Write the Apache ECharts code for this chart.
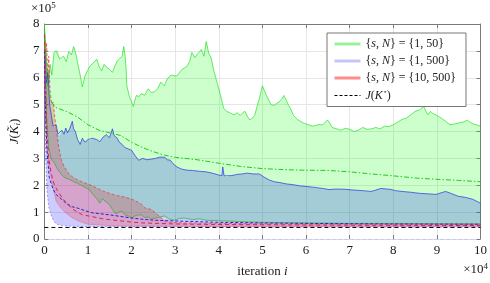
<!DOCTYPE html>
<html><head><meta charset="utf-8">
<script src="https://cdn.jsdelivr.net/npm/echarts@6/dist/echarts.min.js"></script>
<style>html,body{margin:0;padding:0;background:#fff}#c{width:490px;height:283px}</style>
</head><body><div id="c"></div>
<script>
// x in units of 1e4 iterations, y in units of 1e5
var xTicks = [0,1,2,3,4,5,6,7,8,9,10];
var yTicks = [0,1,2,3,4,5,6,7,8];

// {s,N} = {1,50}  (green)
var gUpX = [0,0.03,0.06,0.1,0.13,0.17,0.22,0.27,0.31,0.35,0.38,0.44,0.5,0.56,0.62,0.67,0.72,0.76,0.82,0.87,0.93,1.0,1.04,1.12,1.2,1.26,1.31,1.37,1.42,1.5,1.56,1.62,1.67,1.72,1.78,1.82,1.85,1.87,1.89,1.95,2.0,2.04,2.08,2.11,2.17,2.22,2.3,2.38,2.45,2.53,2.6,2.67,2.75,2.82,2.9,2.98,3.04,3.15,3.27,3.33,3.38,3.45,3.52,3.6,3.66,3.71,3.77,3.82,3.88,3.93,3.98,4.04,4.11,4.18,4.27,4.35,4.42,4.49,4.55,4.6,4.66,4.71,4.77,4.82,4.88,4.93,4.97,5.0,5.05,5.09,5.15,5.2,5.27,5.33,5.38,5.44,5.49,5.55,5.6,5.66,5.71,5.8,5.93,6.05,6.16,6.27,6.38,6.49,6.55,6.6,6.7,6.8,6.9,7.0,7.1,7.2,7.3,7.4,7.5,7.6,7.7,7.8,7.9,8.0,8.1,8.2,8.3,8.4,8.5,8.6,8.7,8.75,8.8,8.85,8.9,9.0,9.1,9.2,9.3,9.4,9.5,9.6,9.7,9.8,9.9,10];
var gUp = [8.0,7.2,6.3,5.8,6.5,6.1,6.94,7.0,7.05,6.7,6.69,6.8,6.6,6.98,6.85,7.16,6.9,6.58,6.1,5.66,6.07,6.3,6.43,6.55,6.69,6.4,6.25,6.5,6.4,6.3,6.2,6.45,6.62,6.7,6.8,7.16,6.8,6.43,5.7,5.3,5.1,4.93,5.2,5.34,5.3,5.41,5.35,5.59,5.45,5.48,5.6,5.84,5.7,5.96,6.1,6.07,6.07,6.3,6.43,6.6,6.94,6.75,6.9,7.05,6.8,7.35,6.9,6.76,6.3,6.0,5.7,5.34,4.86,4.75,4.68,4.62,4.7,4.6,4.7,4.75,4.55,4.43,4.5,4.6,4.95,5.23,5.5,5.7,5.5,5.34,5.15,5.0,4.97,5.05,5.1,5.2,5.34,5.15,4.97,4.8,4.6,4.45,4.32,4.25,4.2,4.25,4.25,4.43,4.3,4.15,4.1,4.05,4.12,4.08,4.0,4.05,4.15,4.08,4.1,4.15,4.1,4.2,4.18,4.25,4.35,4.45,4.5,4.62,4.75,4.8,4.93,4.75,4.62,4.75,4.68,4.6,4.5,4.38,4.25,4.28,4.32,4.35,4.42,4.3,4.25,4.2];
var gLoX = [0,0.05,0.1,0.16,0.22,0.3,0.38,0.45,0.53,0.6,0.67,0.75,0.82,0.9,0.98,1.05,1.11,1.2,1.27,1.33,1.4,1.49,1.56,1.64,1.7,1.78,1.85,1.93,2.0,2.1,2.22,2.3,2.38,2.45,2.6,2.76,2.85,2.98,3.1,3.2,3.4,3.56,3.7,4.0,4.5,5.0,6.0,7.0,8.0,9.0,10];
var gLo = [7.8,4.6,3.4,2.95,2.86,2.6,2.42,2.3,2.24,2.2,2.13,2.08,2.02,1.95,1.88,1.8,1.66,1.5,1.33,1.5,1.4,1.29,1.1,0.93,1.0,1.04,0.9,0.85,0.78,0.88,0.9,0.8,0.82,0.74,0.8,0.86,0.75,0.7,0.76,0.78,0.72,0.75,0.7,0.68,0.65,0.62,0.6,0.58,0.58,0.57,0.56];
var gMeanX = [0,0.05,0.12,0.25,0.5,0.75,1.0,1.25,1.5,1.75,2.0,2.25,2.5,2.75,3.0,3.5,4.0,4.5,5.0,5.5,6.0,6.5,7.0,7.5,8.0,8.5,9.0,9.5,10];
var gMean = [7.8,6.0,5.2,4.9,4.75,4.55,4.25,4.05,3.95,3.85,3.6,3.4,3.25,3.12,3.04,2.95,2.82,2.7,2.62,2.58,2.56,2.55,2.5,2.42,2.35,2.27,2.22,2.18,2.13];

// {s,N} = {1,500}  (blue)
var bUpX = [0,0.02,0.05,0.08,0.12,0.16,0.2,0.24,0.27,0.31,0.35,0.4,0.45,0.49,0.53,0.58,0.64,0.67,0.71,0.76,0.82,0.87,0.93,1.0,1.04,1.1,1.2,1.27,1.35,1.42,1.49,1.53,1.56,1.6,1.67,1.72,1.78,1.85,1.93,2.0,2.08,2.16,2.25,2.35,2.45,2.55,2.65,2.76,2.82,2.89,2.95,3.04,3.15,3.27,3.4,3.55,3.71,3.85,4.0,4.07,4.09,4.12,4.16,4.3,4.4,4.53,4.65,4.8,4.93,5.04,5.15,5.27,5.4,5.55,5.71,5.85,6.04,6.2,6.38,6.53,6.7,6.9,7.1,7.3,7.49,7.6,7.71,7.85,7.93,8.05,8.2,8.4,8.6,8.8,8.98,9.1,9.2,9.35,9.49,9.65,9.82,9.92,10];
var bUp = [7.0,6.9,5.8,6.2,5.0,4.6,4.2,4.15,4.25,3.9,3.85,4.05,3.9,4.13,3.95,4.1,4.38,4.1,4.0,3.7,3.52,3.75,3.6,3.7,3.66,3.75,3.7,3.62,3.8,3.88,3.77,3.95,4.1,3.85,3.75,3.6,3.52,3.4,3.35,3.3,3.1,2.93,3.0,2.95,2.97,3.0,3.05,3.04,2.95,2.93,2.8,2.68,2.6,2.56,2.55,2.52,2.5,2.45,2.38,2.36,2.68,2.35,2.31,2.36,2.4,2.42,2.45,2.42,2.42,2.3,2.2,2.13,2.1,2.05,2.02,1.98,1.95,1.92,1.88,1.84,1.86,1.85,1.82,1.8,1.77,1.82,1.88,1.86,1.85,1.8,1.77,1.74,1.7,1.68,1.66,1.72,1.77,1.68,1.59,1.55,1.48,1.4,1.33];
var bLoX = [0,0.03,0.06,0.1,0.16,0.22,0.27,0.4,0.6,1.0,2.0,4.0,6.0,8.0,10];
var bLo = [7.0,3.0,1.8,1.2,0.86,0.65,0.56,0.5,0.47,0.46,0.46,0.45,0.45,0.45,0.45];
var bMeanX = [0,0.03,0.06,0.11,0.2,0.27,0.38,0.5,0.64,0.76,1.0,1.11,1.49,2.0,2.22,2.5,3.0,4.0,5.0,6.0,8.0,10];
var bMean = [7.0,4.5,3.3,2.3,1.85,1.65,1.5,1.32,1.2,1.15,1.02,0.97,0.9,0.78,0.74,0.7,0.67,0.62,0.6,0.58,0.56,0.55];

// {s,N} = {10,500}  (red)
var rUpX = [0,0.02,0.05,0.08,0.1,0.13,0.17,0.2,0.24,0.28,0.33,0.38,0.45,0.55,0.65,0.76,0.9,1.04,1.2,1.35,1.49,1.65,1.87,2.05,2.22,2.31,2.45,2.6,2.7,2.76,2.9,3.2,4.0,6.0,8.0,10];
var rUp = [7.8,7.0,7.3,6.0,6.8,5.5,5.0,5.1,4.5,4.0,3.4,2.97,2.7,2.45,2.3,2.2,2.1,2.02,1.9,1.78,1.7,1.62,1.55,1.45,1.3,1.15,1.1,0.9,0.75,0.67,0.62,0.6,0.58,0.56,0.55,0.55];
var rLoX = [0,0.03,0.05,0.1,0.16,0.27,0.38,0.49,0.63,0.78,1.0,1.5,2.0,4.0,6.0,8.0,10];
var rLo = [7.5,4.5,3.5,2.8,2.2,1.4,1.15,0.97,0.8,0.67,0.55,0.5,0.48,0.47,0.47,0.47,0.47];
var rMeanX = [0,0.05,0.1,0.16,0.22,0.3,0.42,0.53,0.64,0.76,0.87,1.04,1.31,1.49,2.0,2.22,3.0,4.0,6.0,8.0,10];
var rMean = [7.6,4.2,3.0,2.4,2.05,1.8,1.5,1.3,1.12,1.0,0.9,0.85,0.76,0.72,0.63,0.6,0.56,0.54,0.52,0.51,0.5];

// J(K*)
var jStarX = [0,10];
var jStar = [0.43,0.43];

var SERIF = 'Liberation Serif';

function pairs(xs, ys){ return xs.map(function(x,i){ return [x, ys[i]]; }); }

function band(xsUp, up, xsLo, lo, fill){
  return {
    type:'custom', coordinateSystem:'cartesian2d', silent:true,
    data:[[0,0]], encode:{x:0,y:1}, z:1,
    renderItem:function(params, api){
      var pts = [];
      for (var i=0;i<xsUp.length;i++) pts.push(api.coord([xsUp[i], up[i]]));
      for (var j=xsLo.length-1;j>=0;j--) pts.push(api.coord([xsLo[j], lo[j]]));
      return {type:'polygon', shape:{points:pts}, style:{fill:fill}};
    }
  };
}
function line(name, xs, ys, color, width, type, z){
  return {type:'line', name:name, data:pairs(xs,ys), symbol:'none', showSymbol:false, silent:true,
    z: z||3, animation:false, itemStyle:{color:color},
    lineStyle:{color:color, width:width, type:type||'solid'}};
}

var chart = echarts.init(document.getElementById('c'), null, {renderer:'canvas'});
var axisGray = '#7a7a7a';
var hid = {color:'rgba(0,0,0,0)', borderWidth:0, opacity:0};
chart.setOption({
  animation:false,
  backgroundColor:'#ffffff',
  textStyle:{fontFamily:SERIF},
  grid:{left:33, right:5, top:24, bottom:38.5, containLabel:false},
  xAxis:[{
    type:'value', min:0, max:10, interval:1, position:'bottom',
    axisLine:{show:true, onZero:false, lineStyle:{color:'#c8c8f6', type:'dashed', width:1}},
    axisTick:{show:true, inside:true, length:4, lineStyle:{color:axisGray}},
    axisLabel:{margin:5, fontFamily:SERIF, fontSize:13, color:'#1a1a1a'},
    splitLine:{show:true, lineStyle:{color:'#e6e6e6', width:1}},
    name:'iteration {it|i}', nameLocation:'middle', nameGap:26,
    nameTextStyle:{fontFamily:SERIF, fontSize:13, color:'#1a1a1a', rich:{it:{fontFamily:SERIF, fontStyle:'italic', fontSize:13}}}
  },{
    type:'value', min:0, max:10, interval:1, position:'top',
    axisLine:{show:true, onZero:false, lineStyle:{color:axisGray}},
    axisTick:{show:true, inside:true, length:4, lineStyle:{color:axisGray}},
    axisLabel:{show:false}, splitLine:{show:false}
  }],
  yAxis:[{
    type:'value', min:0, max:8, interval:1, position:'left',
    axisLine:{show:true, onZero:false, lineStyle:{color:axisGray}},
    axisTick:{show:true, inside:true, length:4, lineStyle:{color:axisGray}},
    axisLabel:{margin:5, fontFamily:SERIF, fontSize:13, color:'#1a1a1a'},
    splitLine:{show:true, lineStyle:{color:'#e6e6e6', width:1}},
    name:'{it|J}({it|K\u0303}{sub|i})', nameLocation:'middle', nameGap:20, nameRotate:90,
    nameTextStyle:{fontFamily:SERIF, fontSize:13, color:'#1a1a1a', rich:{
      it:{fontFamily:SERIF, fontStyle:'italic', fontSize:13},
      sub:{fontFamily:SERIF, fontStyle:'italic', fontSize:9, verticalAlign:'bottom', padding:[6,0,0,0]}}}
  },{
    type:'value', min:0, max:8, interval:1, position:'right',
    axisLine:{show:true, onZero:false, lineStyle:{color:axisGray}},
    axisTick:{show:true, inside:true, length:4, lineStyle:{color:axisGray}},
    axisLabel:{show:false}, splitLine:{show:false}
  }],
  legend:{
    left:327, top:33, orient:'vertical', itemWidth:26, itemHeight:10, itemGap:5,
    padding:[5,10,5,6], borderColor:'#777', borderWidth:1, backgroundColor:'#fff',
    itemStyle:hid,
    textStyle:{fontFamily:SERIF, fontSize:12, color:'#222', rich:{
      it:{fontFamily:SERIF, fontStyle:'italic', fontSize:12},
      sup:{fontFamily:'DejaVu Serif', fontSize:7, verticalAlign:'top', padding:[0,0,6,0]}}},
    data:[
      {name:'S1', itemStyle:hid, lineStyle:{color:'#9cf09c', width:3, type:'solid'}},
      {name:'S2', itemStyle:hid, lineStyle:{color:'#c6c6f6', width:3, type:'solid'}},
      {name:'S3', itemStyle:hid, lineStyle:{color:'#ff8c8c', width:3, type:'solid'}},
      {name:'J', itemStyle:hid, lineStyle:{color:'#000', width:1, type:[3,2]}}
    ],
    formatter:function(n){
      if(n==='S1') return '{{it|s}, {it|N}} = {1, 50}';
      if(n==='S2') return '{{it|s}, {it|N}} = {1, 500}';
      if(n==='S3') return '{{it|s}, {it|N}} = {10, 500}';
      return '{it|J}({it|K}{sup|\u22c6})';
    }
  },
  graphic:[
    {type:'text', left:31, top:1, style:{text:'\u00d710{s|5}', fontFamily:SERIF, fontSize:13, fill:'#1a1a1a',
      rich:{s:{fontSize:9, fontFamily:SERIF, verticalAlign:'top', padding:[0,0,7,0]}}}},
    {type:'text', right:2, top:262, style:{text:'\u00d710{s|4}', fontFamily:SERIF, fontSize:13, fill:'#1a1a1a',
      rich:{s:{fontSize:9, fontFamily:SERIF, verticalAlign:'top', padding:[0,0,7,0]}}}}
  ],
  series:[
    band(gUpX, gUp, gLoX, gLo, 'rgba(0,255,0,0.2)'),
    band(bUpX, bUp, bLoX, bLo, 'rgba(0,0,255,0.2)'),
    band(rUpX, rUp, rLoX, rLo, 'rgba(255,0,0,0.2)'),
    line('S1', gUpX, gUp, 'rgba(30,225,30,0.85)', 0.8),
    line('g-lo', gLoX, gLo, 'rgba(40,170,40,0.8)', 0.8),
    line('S2', bUpX, bUp, 'rgba(40,40,230,0.85)', 0.8),
    line('b-lo', bLoX, bLo, 'rgba(90,90,240,0.7)', 0.8, [2,2]),
    line('S3', rUpX, rUp, 'rgba(235,40,40,0.8)', 0.8, [3,2]),
    line('r-lo', rLoX, rLo, 'rgba(235,90,120,0.6)', 0.8),
    line('g-mean', gMeanX, gMean, '#1fcc1f', 1, [5,2,1.5,2], 4),
    line('b-mean', bMeanX, bMean, '#2323c8', 1, [3,2], 4),
    line('r-mean', rMeanX, rMean, '#e0204a', 1, [4,3], 4),
    line('J', jStarX, jStar, '#000', 1, [4,3], 5)
  ]
});
</script></body></html>
